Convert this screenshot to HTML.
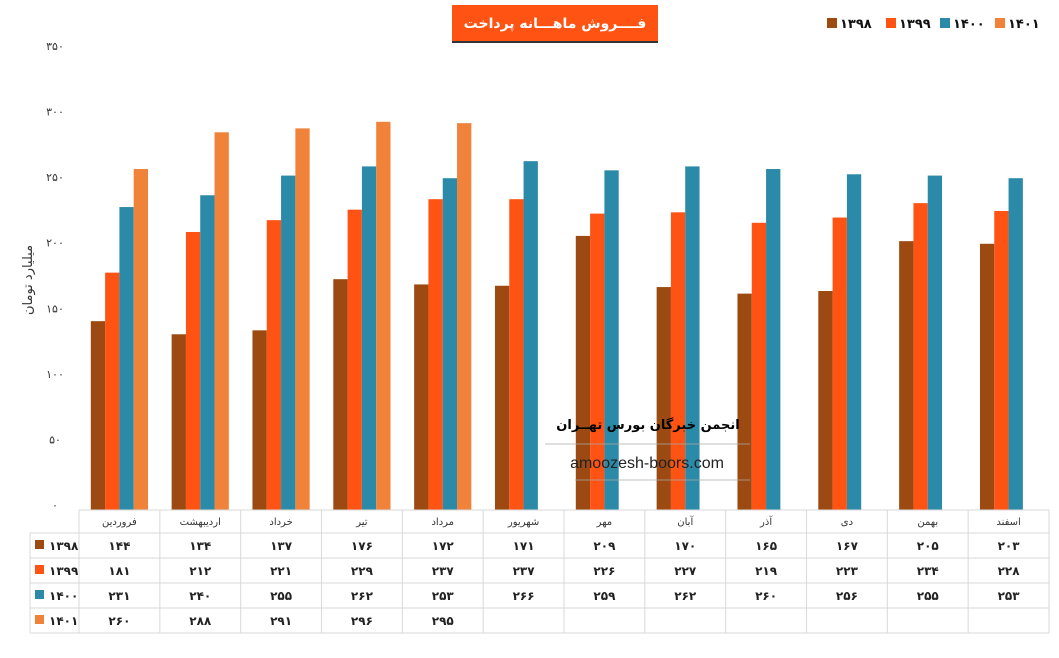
<!DOCTYPE html>
<html><head><meta charset="utf-8">
<style>
body{margin:0;background:#fff;width:1059px;height:653px;overflow:hidden;font-family:"Liberation Sans","Noto Sans CJK SC",sans-serif;}
svg text{font-family:"DejaVu Sans","Noto Sans CJK SC",sans-serif;}
</style></head>
<body>
<svg id="chart" width="1059" height="653" xmlns="http://www.w3.org/2000/svg">
<g id="title">
<rect x="452" y="5" width="206" height="36" fill="#FF5314"/>
<rect x="452" y="41" width="206" height="2" fill="#333"/>
<text x="555" y="28" text-anchor="middle" font-size="14" font-weight="bold" fill="#fff">فــــروش ماهـــانه پرداخت</text>
</g>
<g id="legend"></g>
<g id="yaxis"></g>
<text transform="translate(32,280) rotate(-90)" text-anchor="middle" font-size="13" fill="#333">میلیارد تومان</text>
<g id="bars"></g>
<g id="watermark">
<text x="648" y="429" text-anchor="middle" font-size="13" font-weight="bold" fill="#000">انجمن خبرگان بورس تهــران</text>
<line x1="545" y1="444" x2="750" y2="444" stroke="#aaa" stroke-width="0.7"/>
<text x="647" y="468" text-anchor="middle" font-size="16" fill="#222" style="font-family:'Liberation Sans',sans-serif">amoozesh-boors.com</text>
<line x1="575" y1="480" x2="750" y2="480" stroke="#aaa" stroke-width="0.7"/>
</g>
<g id="table"></g>
</svg>
<script>
const categories=["فروردین","اردیبهشت","خرداد","تیر","مرداد","شهریور","مهر","آبان","آذر","دی","بهمن","اسفند"];
const seriesNames=["1398","1399","1400","1401"];
const s1398=[144,134,137,176,172,171,209,170,165,167,205,203];
const s1399=[181,212,221,229,237,237,226,227,219,223,234,228];
const s1400=[231,240,255,262,253,266,259,262,260,256,255,253];
const s1401=[260,288,291,296,295,null,null,null,null,null,null,null];
const yTicks=[0,50,100,150,200,250,300,350];
const colors=["#9C4A12","#FF5314","#2A8AA8","#F0823A"];
const series=[s1398,s1399,s1400,s1401];
const NS="http://www.w3.org/2000/svg";
const X0=79,X1=1049,Y0=510,Y1=51,YMAX=350;
const cw=(X1-X0)/categories.length;
const y=v=>Y0-(v/YMAX)*(Y0-Y1);
const fa=s=>String(s).replace(/[0-9]/g,d=>"۰۱۲۳۴۵۶۷۸۹"[d]);
function mk(tag,attrs,parent,txt){const e=document.createElementNS(NS,tag);for(const k in attrs)e.setAttribute(k,attrs[k]);if(txt!=null)e.textContent=txt;parent.appendChild(e);return e;}
const gy=document.getElementById('yaxis');
yTicks.forEach(t=>{const e=mk('text',{x:55,y:y(t)-1,'text-anchor':'middle','font-size':11,fill:'#333'},gy,fa(t));

});
const gb=document.getElementById('bars');
const bw=14.3;
series.forEach((s,si)=>{s.forEach((v,ci)=>{if(v==null)return;
const x=X0+ci*cw+11.8+si*bw;
const r=mk('rect',{x:x,y:y(v),width:bw,height:Y0-y(v),fill:colors[si]},gb);

});});
const gl=document.getElementById('legend');
const lx=[827,886,940,995];
seriesNames.forEach((n,i)=>{const g=mk('g',{},gl);


mk('rect',{x:lx[i],y:18,width:10,height:10,fill:colors[i]},g);
mk('text',{x:lx[i]+13,y:28,'font-size':13,'font-weight':'bold',fill:'#111'},g,fa(n));});
const gt=document.getElementById('table');
const rows=[510,533,558,583,608,633];
const st='#d9d9d9';
mk('line',{x1:X0,y1:Y0,x2:X1,y2:Y0,stroke:st},gt);
for(let i=1;i<rows.length;i++)mk('line',{x1:30,y1:rows[i],x2:X1,y2:rows[i],stroke:st},gt);
mk('line',{x1:30,y1:533,x2:30,y2:633,stroke:st},gt);
for(let c=0;c<=categories.length;c++)mk('line',{x1:X0+c*cw,y1:Y0,x2:X0+c*cw,y2:633,stroke:st},gt);
categories.forEach((c,ci)=>{const e=mk('text',{x:X0+ci*cw+cw/2,y:525,'text-anchor':'middle','font-size':10,fill:'#333'},gt,c);

});
series.forEach((s,si)=>{const ry=rows[si+1]+17;
mk('rect',{x:35,y:ry-10,width:9,height:9,fill:colors[si]},gt);
mk('text',{x:49,y:ry,'font-size':12,'font-weight':'bold',fill:'#222'},gt,fa(seriesNames[si]));
s.forEach((v,ci)=>{if(v==null)return;const e=mk('text',{x:X0+ci*cw+cw/2,y:ry,'text-anchor':'middle','font-size':12,'font-weight':'bold',fill:'#222'},gt,fa(v));

});});
</script>
</body></html>
